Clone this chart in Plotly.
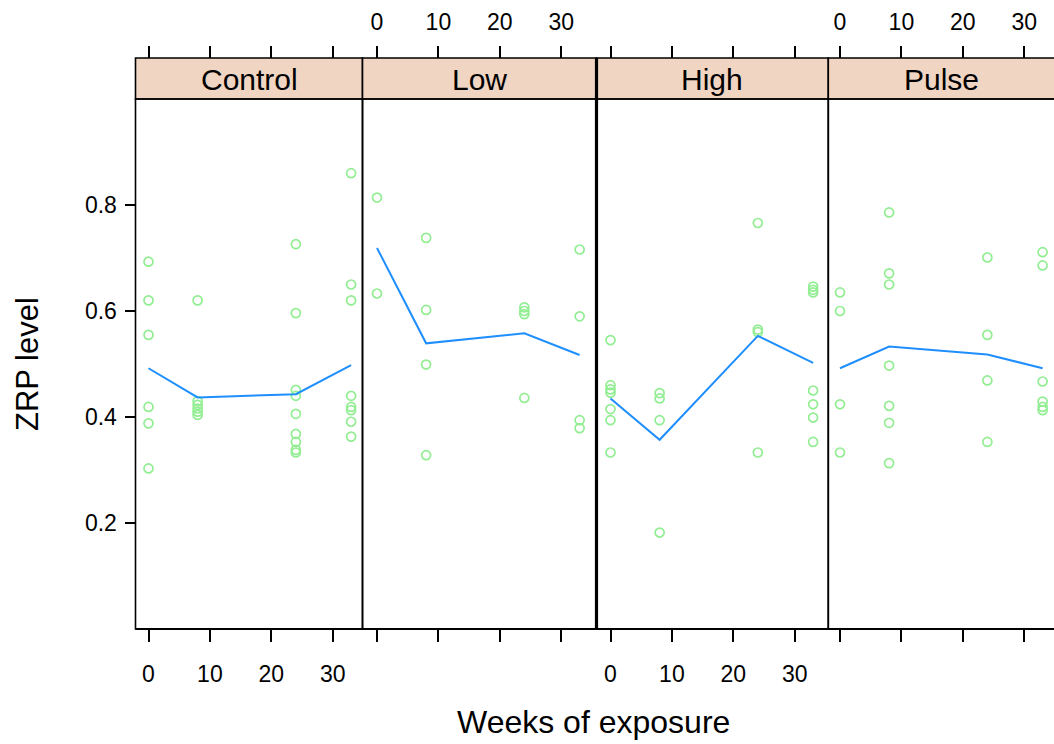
import plotly.graph_objects as go

# ZRP level by weeks of exposure, one panel per treatment group
groups = ["Control", "Low", "High", "Pulse"]
weeks = [0, 8, 24, 33]

# Individual ZRP measurements, one list per week (same order as `weeks`)
control_zrp = [
    [0.693, 0.620, 0.555, 0.419, 0.388, 0.303],
    [0.620, 0.430, 0.423, 0.416, 0.410, 0.404],
    [0.726, 0.596, 0.451, 0.440, 0.406, 0.368, 0.353, 0.338, 0.333],
    [0.860, 0.650, 0.620, 0.440, 0.419, 0.413, 0.391, 0.363],
]
low_zrp = [
    [0.814, 0.633],
    [0.738, 0.602, 0.499, 0.328],
    [0.607, 0.600, 0.594, 0.436],
    [0.716, 0.590, 0.394, 0.379],
]
high_zrp = [
    [0.545, 0.460, 0.452, 0.446, 0.415, 0.394, 0.333],
    [0.445, 0.435, 0.394, 0.182],
    [0.766, 0.565, 0.560, 0.333],
    [0.646, 0.640, 0.635, 0.450, 0.424, 0.399, 0.353],
]
pulse_zrp = [
    [0.635, 0.600, 0.424, 0.333],
    [0.786, 0.671, 0.650, 0.497, 0.421, 0.389, 0.313],
    [0.701, 0.555, 0.469, 0.353],
    [0.711, 0.686, 0.467, 0.429, 0.419, 0.413],
]

# Group average at each week
control_avg = [0.492, 0.437, 0.443, 0.498]
low_avg = [0.719, 0.539, 0.558, 0.517]
high_avg = [0.435, 0.357, 0.553, 0.502]
pulse_avg = [0.492, 0.533, 0.518, 0.492]

x_ticks = [0, 10, 20, 30]
y_ticks = [0.2, 0.4, 0.6, 0.8]

points = [control_zrp, low_zrp, high_zrp, pulse_zrp]
averages = [control_avg, low_avg, high_avg, pulse_avg]

# ---- page geometry (pixels) ----
W, H = 1054, 744
panel_top, panel_bottom = 99, 629
strip_top = 58
left_px = [135.5, 362.5, 596.5, 828.3]
right_px = [362.5, 596.5, 828.3, 1054.0]
zero_px = [148.5, 377.0, 610.5, 840.0]
px_per_week = 6.14

FONT = "Liberation Sans"
POINT_COL = "#93ee93"
LINE_COL = "#1f8fff"
STRIP_COL = "#f0d5c3"


def px(x):
    return x / W


def py(y):
    return 1 - y / H


fig = go.Figure()

for i, g in enumerate(groups):
    xa = "x" if i == 0 else f"x{i + 1}"
    xs, ys = [], []
    for w, vals in zip(weeks, points[i]):
        xs += [w] * len(vals)
        ys += vals
    fig.add_trace(go.Scatter(
        x=xs, y=ys, mode="markers", xaxis=xa, yaxis="y",
        marker=dict(symbol="circle-open", size=9, color=POINT_COL,
                    line=dict(width=1.7, color=POINT_COL)),
        showlegend=False, hoverinfo="x+y", name=g,
    ))
    fig.add_trace(go.Scatter(
        x=weeks, y=averages[i], mode="lines", xaxis=xa, yaxis="y",
        line=dict(color=LINE_COL, width=2), showlegend=False, name=g,
    ))

layout = dict(
    width=W, height=H, autosize=False,
    margin=dict(l=0, r=0, t=0, b=0),
    paper_bgcolor="white", plot_bgcolor="white",
    font=dict(family=FONT, color="black"),
)

tick_font = dict(family=FONT, size=23, color="black")

for i in range(4):
    lo = (left_px[i] - zero_px[i]) / px_per_week
    hi = (right_px[i] - zero_px[i]) / px_per_week
    key = "xaxis" if i == 0 else f"xaxis{i + 1}"
    layout[key] = dict(
        domain=[px(left_px[i]), px(right_px[i])], range=[lo, hi],
        anchor="y", side="bottom",
        tickmode="array", tickvals=x_ticks, ticktext=[str(t) for t in x_ticks],
        ticks="outside", ticklen=12, tickwidth=1.6, tickcolor="black",
        showticklabels=(i in (0, 2)), tickfont=tick_font, ticklabelstandoff=12,
        showgrid=False, zeroline=False, showline=False, fixedrange=True,
    )
    # top tick marks sit above the strip
    layout[f"xaxis{i + 5}"] = dict(
        overlaying="x" if i == 0 else f"x{i + 1}",
        domain=[px(left_px[i]), px(right_px[i])], range=[lo, hi],
        anchor="free", position=py(strip_top), side="top",
        tickmode="array", tickvals=x_ticks, ticktext=[str(t) for t in x_ticks],
        ticks="outside", ticklen=12, tickwidth=1.6, tickcolor="black",
        showticklabels=(i in (1, 3)), tickfont=tick_font, ticklabelstandoff=7,
        showgrid=False, zeroline=False, showline=False, fixedrange=True,
    )

layout["yaxis"] = dict(
    domain=[py(panel_bottom), py(panel_top)], range=[0, 1.0],
    anchor="x", side="left",
    tickmode="array", tickvals=y_ticks, ticktext=[f"{t:.1f}" for t in y_ticks],
    ticks="outside", ticklen=10, tickwidth=1.6, tickcolor="black",
    tickfont=tick_font, ticklabelstandoff=3,
    showgrid=False, zeroline=False, showline=False, fixedrange=True,
)

fig.update_layout(**layout)

# invisible traces so the top axes are drawn
for i in range(4):
    fig.add_trace(go.Scatter(x=[None], y=[None], xaxis=f"x{i + 5}", yaxis="y",
                             showlegend=False, hoverinfo="skip"))

shapes = []
annotations = []
for i, g in enumerate(groups):
    x0, x1 = px(left_px[i]), px(right_px[i])
    if i == 3:
        x1 = px(W + 4)
    # strip
    shapes.append(dict(type="rect", xref="paper", yref="paper",
                       x0=x0, x1=x1, y0=py(panel_top), y1=py(strip_top),
                       fillcolor=STRIP_COL, line=dict(color="black", width=1.6),
                       layer="below"))
    # panel frame
    shapes.append(dict(type="rect", xref="paper", yref="paper",
                       x0=x0, x1=x1, y0=py(panel_bottom), y1=py(panel_top),
                       fillcolor="rgba(0,0,0,0)", line=dict(color="black", width=1.6),
                       layer="above"))
    annotations.append(dict(
        text=g, xref="paper", yref="paper",
        x=(px(left_px[i]) + px(right_px[i])) / 2, y=py((strip_top + panel_top) / 2 + 1),
        showarrow=False, xanchor="center", yanchor="middle",
        font=dict(family=FONT, size=30, color="black"),
    ))

# heavier divider between the Low and High panels
shapes.append(dict(type="line", xref="paper", yref="paper",
                   x0=px(left_px[2]), x1=px(left_px[2]),
                   y0=py(panel_bottom), y1=py(strip_top),
                   line=dict(color="black", width=3.2)))
# bottom axis rule
shapes.append(dict(type="line", xref="paper", yref="paper",
                   x0=px(left_px[0]), x1=px(W + 4),
                   y0=py(panel_bottom), y1=py(panel_bottom),
                   line=dict(color="black", width=2.2)))

annotations.append(dict(
    text="Weeks of exposure", xref="paper", yref="paper",
    x=px(593), y=py(722), showarrow=False, xanchor="center", yanchor="middle",
    font=dict(family=FONT, size=32, color="black"),
))
annotations.append(dict(
    text="ZRP level", xref="paper", yref="paper",
    x=px(27), y=py(364), showarrow=False, xanchor="center", yanchor="middle",
    textangle=-90, font=dict(family=FONT, size=31, color="black"),
))

fig.update_layout(shapes=shapes, annotations=annotations)

fig.write_html("out.html", config={"displayModeBar": False})
